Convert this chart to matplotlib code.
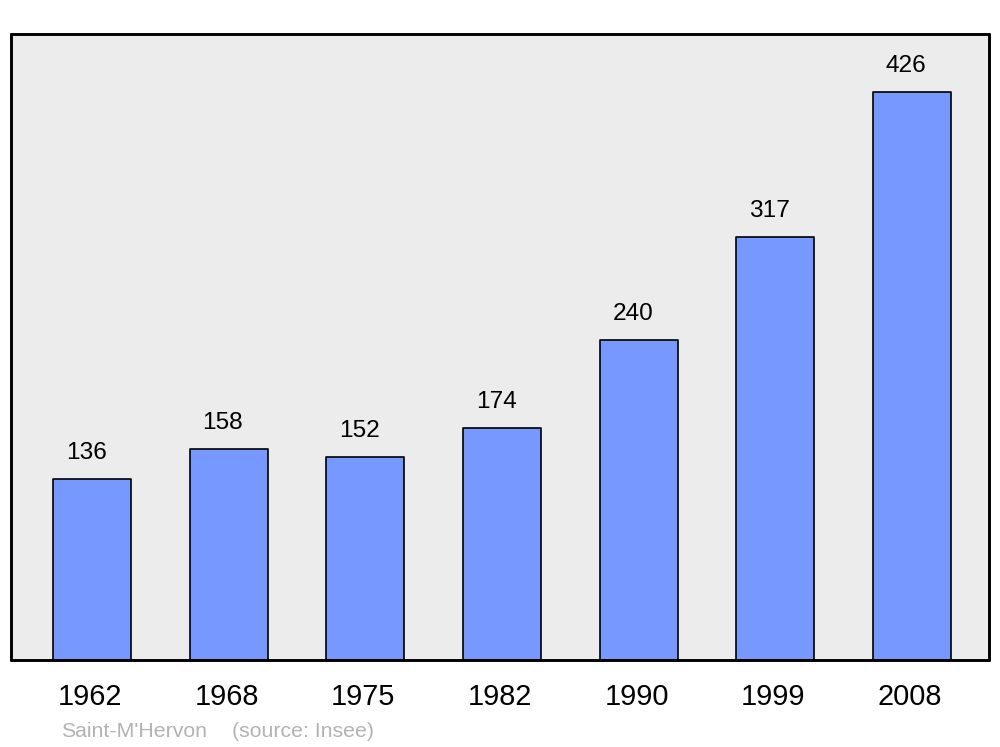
import numpy as np
import matplotlib.pyplot as plt

plt.rcParams['font.family'] = ['Liberation Sans', 'DejaVu Sans']

years = ["1962", "1968", "1975", "1982", "1990", "1999", "2008"]
population = [136, 158, 152, 174, 240, 317, 426]
place = "Saint-M'Hervon"
source = "(source: Insee)"

fig = plt.figure(figsize=(10, 7.47), dpi=100)
ax = fig.add_axes([0.011, 1 - 660 / 747, 0.978, 626 / 747])
ax.set_facecolor("#ececec")

x = np.arange(len(years))
bars = ax.bar(x, population, width=0.57, color="#7799ff", edgecolor="black",
              linewidth=1.2, zorder=2)
for b in bars:
    b.set_joinstyle("round")

for xi, v in zip(x, population):
    ax.annotate(str(v), (xi, v), xytext=(-4.3, 14.4), textcoords="offset points",
                ha="center", va="baseline", fontsize=17.6)
    
for xi, yr in zip(x, years):
    ax.annotate(yr, (xi, 0), xycoords=("data", "axes fraction"), xytext=(-1.4, -32.4),
                textcoords="offset points", ha="center", va="baseline", fontsize=20.8)

ax.set_xlim(-0.593, 6.563)
ax.set_ylim(0, 469.5)
ax.set_xticks([])
ax.set_yticks([])
for s in ax.spines.values():
    s.set_linewidth(2.1)
    s.set_capstyle("round")
    s.set_joinstyle("round")

fig.text(0.061, 1 - 737 / 747, place, color="#b3b3b3", fontsize=15.3, va="baseline")
fig.text(0.232, 1 - 737 / 747, source, color="#b3b3b3", fontsize=15.3, va="baseline")

fig.savefig("out.png", dpi=100)
